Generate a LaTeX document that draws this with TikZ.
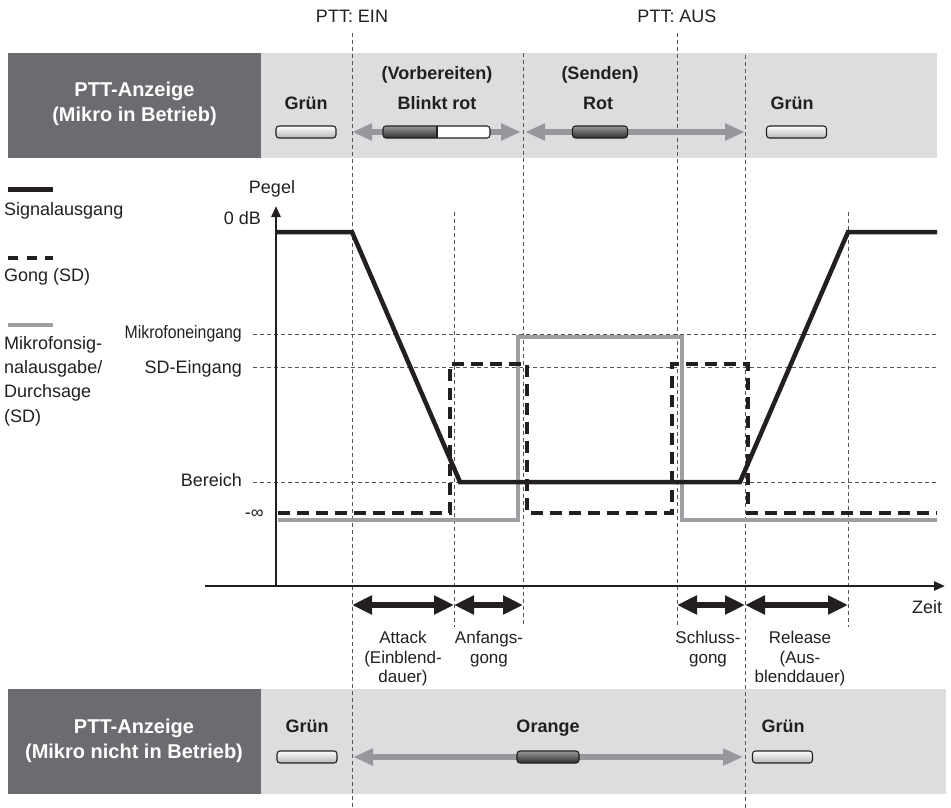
\documentclass[tikz,border=0pt]{standalone}
\usepackage{fontspec}
\setmainfont{Liberation Sans}
\newfontfamily\condfont{Liberation Sans}[FakeStretch=0.88]
\usetikzlibrary{arrows.meta}
\definecolor{darkbox}{HTML}{6B6C70}
\definecolor{lightband}{HTML}{DCDDDF}
\definecolor{guide}{HTML}{555555}
\definecolor{micgrey}{HTML}{9D9FA2}
\definecolor{arrowgrey}{HTML}{97989B}
\definecolor{ink}{HTML}{231F20}
\begin{document}
\begin{tikzpicture}[x=1pt,y=-1pt,
 guideline/.style={draw=guide, line width=0.9pt, dash pattern=on 4pt off 3pt},
 sigline/.style={line width=4.5pt, draw=ink, line join=miter},
 gongline/.style={line width=4.5pt, draw=ink, dash pattern=on 12pt off 7pt},
 micline/.style={line width=4.2pt, draw=micgrey},
 axisline/.style={line width=2.5pt, draw=ink, -{Triangle[length=11pt,width=9pt]}},
 durarrow/.style={line width=6pt, draw=ink, {Triangle[length=20pt,width=18pt]}-{Triangle[length=20pt,width=18pt]}},
 statearrow/.style={line width=6pt, draw=arrowgrey, {Triangle[length=20pt,width=16pt]}-{Triangle[length=20pt,width=16pt]}},
 led/.style={rectangle, draw=ink, line width=1.1pt, rounded corners=3pt, minimum height=12pt, inner sep=0pt},
 ledlight/.style={led, minimum width=60pt, top color=white, bottom color=black!28},
 leddark/.style={led, minimum width=55pt, top color=black!40, bottom color=black!82},
 lbl/.style={font=\fontsize{18}{22}\selectfont, inner sep=0pt, text=ink},
 blbl/.style={font=\bfseries\fontsize{18}{22}\selectfont, inner sep=0pt, text=ink},
 hdr/.style={font=\bfseries\fontsize{20}{25}\selectfont, text=white, align=center, inner sep=0pt},
 smalllbl/.style={font=\fontsize{17}{19.5}\selectfont, align=center, inner sep=0pt, text=ink, anchor=north},
]
\useasboundingbox (0,0) rectangle (951,808);
% ---- bands
\fill[lightband] (261,53) rectangle (937,158);
\fill[darkbox] (8,53) rectangle (261,158);
\fill[lightband] (261,689) rectangle (946,794);
\fill[darkbox] (8,689) rectangle (261,794);
% ---- guide lines
\coordinate (einT) at (352,33);  \coordinate (einB) at (352,808);
\coordinate (att) at (454,605);  \coordinate (attT) at (454,212); \coordinate (attB) at (454,627);
\coordinate (anfT) at (523,53);  \coordinate (anfB) at (523,627);
\coordinate (ausT) at (677,33);  \coordinate (ausB) at (677,627);
\coordinate (schT) at (745,55);  \coordinate (schB) at (745,808);
\coordinate (relT) at (848,212); \coordinate (relB) at (848,627);
\foreach \a/\b in {einT/einB, attT/attB, anfT/anfB, ausT/ausB, schT/schB, relT/relB}
  \draw[guideline] (\a) -- (\b);
\foreach \y in {334,367,482}
  \draw[guideline] (253,\y) -- (937,\y);
% ---- signals
\draw[micline] (278,520) -- (518,520) -- (518,337) -- (682,337) -- (682,520) -- (937,520);
\draw[sigline] (276,232) -- (352,232) -- (460,482) -- (740,482) -- (848,232) -- (937,232);
\draw[gongline] (278,513) -- (450,513) -- (450,364) -- (527,364) -- (527,513) -- (672,513) -- (672,364) -- (748,364) -- (748,513) -- (937,513);
% ---- axes
\coordinate (origin) at (276,586);
\coordinate (ytop) at (276,206);
\coordinate (xleft) at (205,586);
\coordinate (xright) at (945,586);
\draw[axisline] (origin) -- (ytop);
\draw[axisline] (xleft) -- (xright);
\node[lbl, anchor=base] (pegel) at (272,193) {Pegel};
\node[lbl, anchor=base east] (zerodb) at (261,224) {0 dB};
\node[lbl, anchor=base east] (mikin) at (242,338) {\condfont Mikrofoneingang};
\node[lbl, anchor=base east] (sdin) at (242,373) {SD-Eingang};
\node[lbl, anchor=base east] (bereich) at (242,486) {Bereich};
\node[lbl, anchor=east] (minf) at (264,514) {-∞};
\node[lbl, anchor=base west] (zeit) at (912,613) {Zeit};
% ---- legend
\coordinate (l1a) at (8,189); \coordinate (l1b) at (53,189);
\coordinate (l2a) at (8,258); \coordinate (l2b) at (53,258);
\coordinate (l3a) at (8,325); \coordinate (l3b) at (53,325);
\draw[line width=5pt, draw=ink] (l1a) -- (l1b);
\draw[line width=4.5pt, draw=ink, dash pattern=on 10pt off 8.5pt] (l2a) -- (l2b);
\draw[line width=4.5pt, draw=micgrey] (l3a) -- (l3b);
\node[lbl, anchor=base west] (legsig) at (4,215) {Signalausgang};
\node[lbl, anchor=base west] (leggong) at (4,281) {Gong (SD)};
\node[lbl, anchor=north west, align=left, font=\fontsize{18}{24.3}\selectfont] (legmic) at (4,336) {Mikrofonsig-\\nalausgabe/\\Durchsage\\(SD)};
% ---- duration arrows
\coordinate (d0) at (352,605); \coordinate (d1) at (454,605); \coordinate (d2) at (523,605);
\coordinate (d3) at (677,605); \coordinate (d4) at (745,605); \coordinate (d5) at (848,605);
\draw[durarrow] (d0) -- (d1);
\draw[durarrow] (d1) -- (d2);
\draw[durarrow] (d3) -- (d4);
\draw[durarrow] (d4) -- (d5);
\node[smalllbl] (tattack) at (403,631) {Attack\\(Einblend-\\dauer)};
\node[smalllbl] (tanf) at (489,631) {Anfangs-\\gong};
\node[smalllbl] (tschl) at (708,631) {Schluss-\\gong};
\node[smalllbl] (trel) at (800,631) {Release\\(Aus-\\blenddauer)};
% ---- top PTT labels
\node[lbl] (pttein) at (352,16) {PTT: EIN};
\node[lbl] (pttaus) at (677,16) {PTT: AUS};
% ---- top band
\node[hdr] (hdrtop) at (134.5,104) {PTT-Anzeige\\(Mikro in Betrieb)};
\coordinate (ta0) at (352,132); \coordinate (ta1) at (521,132);
\coordinate (ta2) at (525,132); \coordinate (ta3) at (745,132);
\draw[statearrow] (ta0) -- (ta1);
\draw[statearrow] (ta2) -- (ta3);
\node[ledlight] (ledg1) at (306,132) {};
\begin{scope}
  \path[clip, rounded corners=3pt] (383,126) rectangle (490,138);
  \fill[white] (383,126) rectangle (490,138);
  \shade[top color=black!40, bottom color=black!82] (383,126) rectangle (437,138);
\end{scope}
\draw[draw=ink, line width=1.1pt, rounded corners=3pt] (383,126) rectangle (490,138);
\draw[draw=ink, line width=1.1pt] (437,126) -- (437,138);
\node[leddark] (ledrot) at (600,132) {};
\node[ledlight] (ledg2) at (796.5,132) {};
\node[blbl, anchor=base] (tg1) at (306,110) {Grün};
\node[blbl, anchor=base] (tvor) at (437,80) {(Vorbereiten)};
\node[blbl, anchor=base] (tblink) at (437,110) {Blinkt rot};
\node[blbl, anchor=base] (tsend) at (600,80) {(Senden)};
\node[blbl, anchor=base] (trot) at (598,110) {Rot};
\node[blbl, anchor=base] (tg2) at (792,110) {Grün};
% ---- bottom band
\node[hdr] (hdrbot) at (134,741) {PTT-Anzeige\\(Mikro nicht in Betrieb)};
\coordinate (ba0) at (353,757); \coordinate (ba1) at (743,757);
\draw[statearrow] (ba0) -- (ba1);
\node[ledlight] (ledg3) at (307,757) {};
\node[leddark, minimum width=62pt] (ledor) at (548,757) {};
\node[ledlight] (ledg4) at (782.5,757) {};
\node[blbl, anchor=base] (tg3) at (307,732) {Grün};
\node[blbl, anchor=base] (tor) at (548,732) {Orange};
\node[blbl, anchor=base] (tg4) at (783,732) {Grün};
\end{tikzpicture}
\end{document}
